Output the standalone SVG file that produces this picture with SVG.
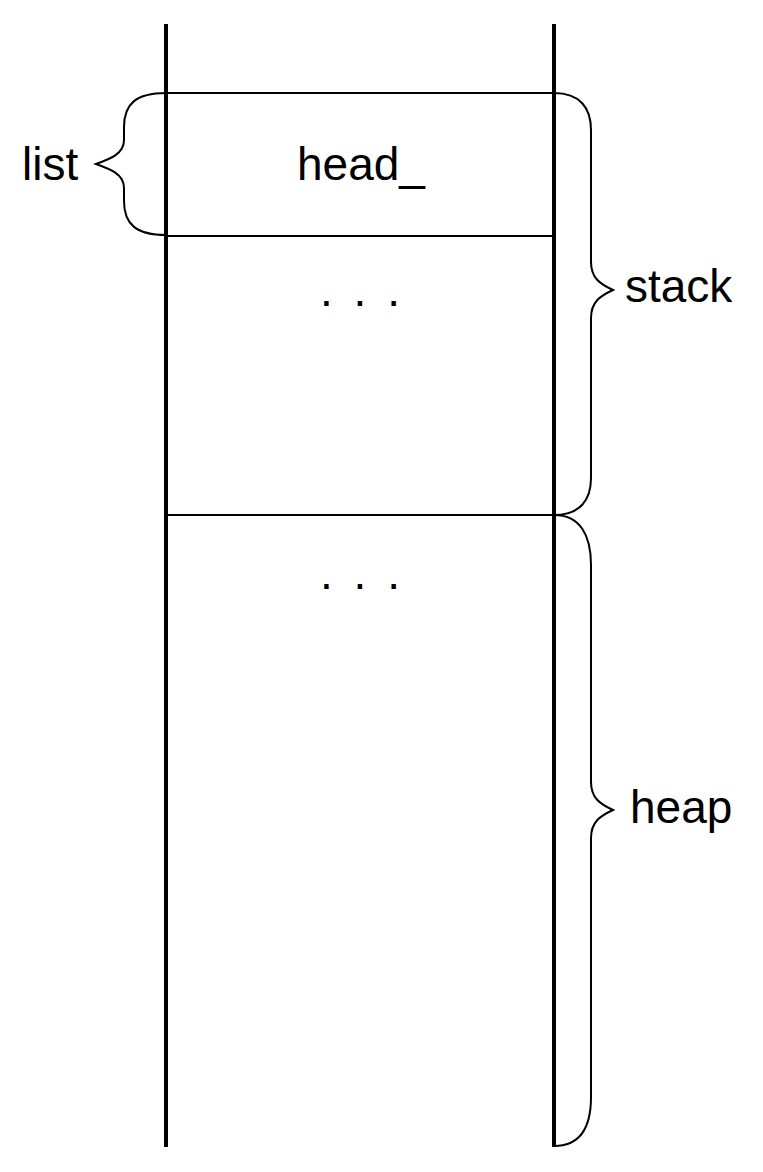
<svg xmlns="http://www.w3.org/2000/svg" width="763" height="1172" viewBox="0 0 763 1172">
<style>
.t{font-family:"Liberation Sans",Arial,sans-serif;font-size:46px;fill:#000}
.b{fill:none;stroke:#000;stroke-width:2}
.w{stroke:#000;stroke-width:4}
.h{stroke:#000;stroke-width:2}
</style>
<rect width="763" height="1172" fill="#fff"/>
<g id="memory">
<line class="w" x1="166" y1="24" x2="166" y2="1147"/>
<line class="w" x1="554" y1="24" x2="554" y2="1147"/>
<line class="h" x1="166" y1="93" x2="554" y2="93"/>
<line class="h" x1="166" y1="236" x2="554" y2="236"/>
<line class="h" x1="166" y1="515" x2="554" y2="515"/>
</g>
<g id="head">
<text class="t" x="361" y="180" text-anchor="middle">head_</text>
</g>
<g id="dots1">
<text class="t" x="362" y="306" text-anchor="middle" letter-spacing="4">. . .</text>
</g>
<g id="dots2">
<text class="t" x="362" y="589" text-anchor="middle" letter-spacing="4">. . .</text>
</g>
<g id="braces">
<path class="b" d="M166,93 C136,93 124,104 124,127 L124,140 C124,154 110,159 96,164 C110,169 124,174 124,188 L124,201 C124,224 136,235 166,235"/>
<path class="b" d="M554,93 C580,93 591,108 591,130 L591,262 C591,278 600,284 613,290 C600,296 591,302 591,318 L591,478 C591,500 580,515 554,515"/>
<path class="b" d="M554,515 C580,515 591,535 591,565 L591,782 C591,798 600,804 613,810 C600,816 591,822 591,838 L591,1097 C591,1128 580,1146 554,1146"/>
</g>
<g id="list">
<text class="t" x="22" y="180">list</text>
</g>
<g id="stack">
<text class="t" x="625" y="302">stack</text>
</g>
<g id="heap">
<text class="t" x="630" y="823">heap</text>
</g>
</svg>
